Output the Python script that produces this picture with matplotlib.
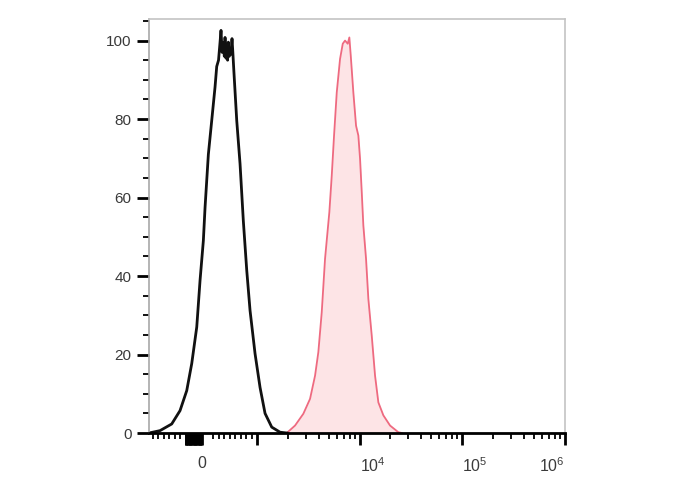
import numpy as np
import matplotlib
matplotlib.use("Agg")
import matplotlib.pyplot as plt

plt.rcParams['font.family'] = ['Liberation Sans', 'DejaVu Sans']
plt.rcParams['mathtext.default'] = 'regular'

# control (unstained) histogram, black outline
black_x = [-964, -764, -551, -400, -278, -187, -96, -36, 24, 55, 115, 176, 236, 267, 300,
           327, 345, 365, 387, 405, 418, 435, 449, 465, 478, 495, 509, 525, 545, 560,
           578, 631, 691, 751, 813, 873, 964, 1070, 1197, 1391, 1677, 1962]
black_y = [0, 0.6, 2.3, 5.7, 10.8, 17.7, 27, 38.9, 49, 57.5, 71, 79.6, 88.1, 93.4, 95,
           99.5, 102.6, 97, 99.5, 96, 100.8, 95.5, 97.5, 95, 99.6, 96, 98, 96.5, 100.5, 97,
           92.4, 79.6, 68.6, 54, 41.4, 31.2, 20.2, 11.6, 5, 1.5, 0.2, 0]

# stained sample, red filled
red_x = [1949, 2348, 2829, 3289, 3680, 3963, 4278, 4607, 5075, 5356, 5640, 5993, 6452,
         6859, 7221, 7672, 7953, 8206, 8700, 9245, 9735, 10113, 10507, 10891, 11570,
         12186, 13152, 14167, 15259, 17073, 19843, 23897, 25795]
red_y = [0, 1.9, 4.9, 8.7, 14.6, 20.6, 30.8, 44.4, 56.3, 65.6, 75.8, 86.8, 95.3,
         99.2, 100, 99.2, 100.8, 96.2, 86.8, 78.3, 75.8, 69.9, 61.4, 52.9, 44.4,
         34.2, 24.8, 14.6, 7.8, 4.5, 1.9, 0.2, 0]

x_major = [0, 1e3, 1e4, 1e5, 1e6]
x_major_labels = ['0', '', '$10^4$', '$10^5$', '$10^6$']
y_major = [0, 20, 40, 60, 80, 100]

fig = plt.figure(figsize=(6.88, 4.9), dpi=100)
ax = fig.add_axes([149/688, 57/490, 416/688, 414/490])

ax.fill_between(red_x, red_y, 0, color='#fde4e6', lw=0)
ax.plot(red_x, red_y, color='#ee6a80', lw=1.3)
ax.plot(black_x, black_y, color='#111111', lw=2.0)

ax.set_xscale('symlog', linthresh=1000, linscale=0.483)
ax.set_xlim(-964, 1.01e6)
ax.set_ylim(0, 105.5)

# biex style ticks: dense cluster left of zero drawn as long ticks
cluster = list(np.arange(-300, 0, 15))
ticks = cluster + x_major
labels = [''] * len(cluster) + x_major_labels
minor = list(range(-900, -300, 100)) + list(range(200, 1000, 100))
for d in [1e3, 1e4, 1e5]:
    minor += [k * d for k in range(2, 10)]
ax.set_xticks(ticks)
ax.set_xticklabels(labels)
ax.set_xticks(minor, minor=True)
ax.set_yticks(y_major)
ax.set_yticks(np.arange(0, 106, 5), minor=True)

ax.tick_params(which='major', length=8.5, width=2, color='black',
               labelcolor='#3a3a3a')
ax.tick_params(which='minor', length=4.5, width=1.3, color='black')
ax.tick_params(axis='x', which='major', pad=8, labelsize=11.5)
ax.tick_params(axis='y', which='major', pad=4, labelsize=11)

# decade labels sit just right of their tick, last one ends at the edge
for lab in ax.get_xticklabels():
    t = lab.get_text()
    if t == '$10^6$':
        lab.set_horizontalalignment('right')
    elif t.startswith('$10'):
        lab.set_horizontalalignment('left')

for s in ['top', 'right']:
    ax.spines[s].set_color('#c4c4c4')
    ax.spines[s].set_linewidth(1.2)
ax.spines['left'].set_color('#a8a8a8')
ax.spines['left'].set_linewidth(1.2)
ax.spines['bottom'].set_color('black')
ax.spines['bottom'].set_linewidth(2)

fig.savefig('out.png', dpi=100)
